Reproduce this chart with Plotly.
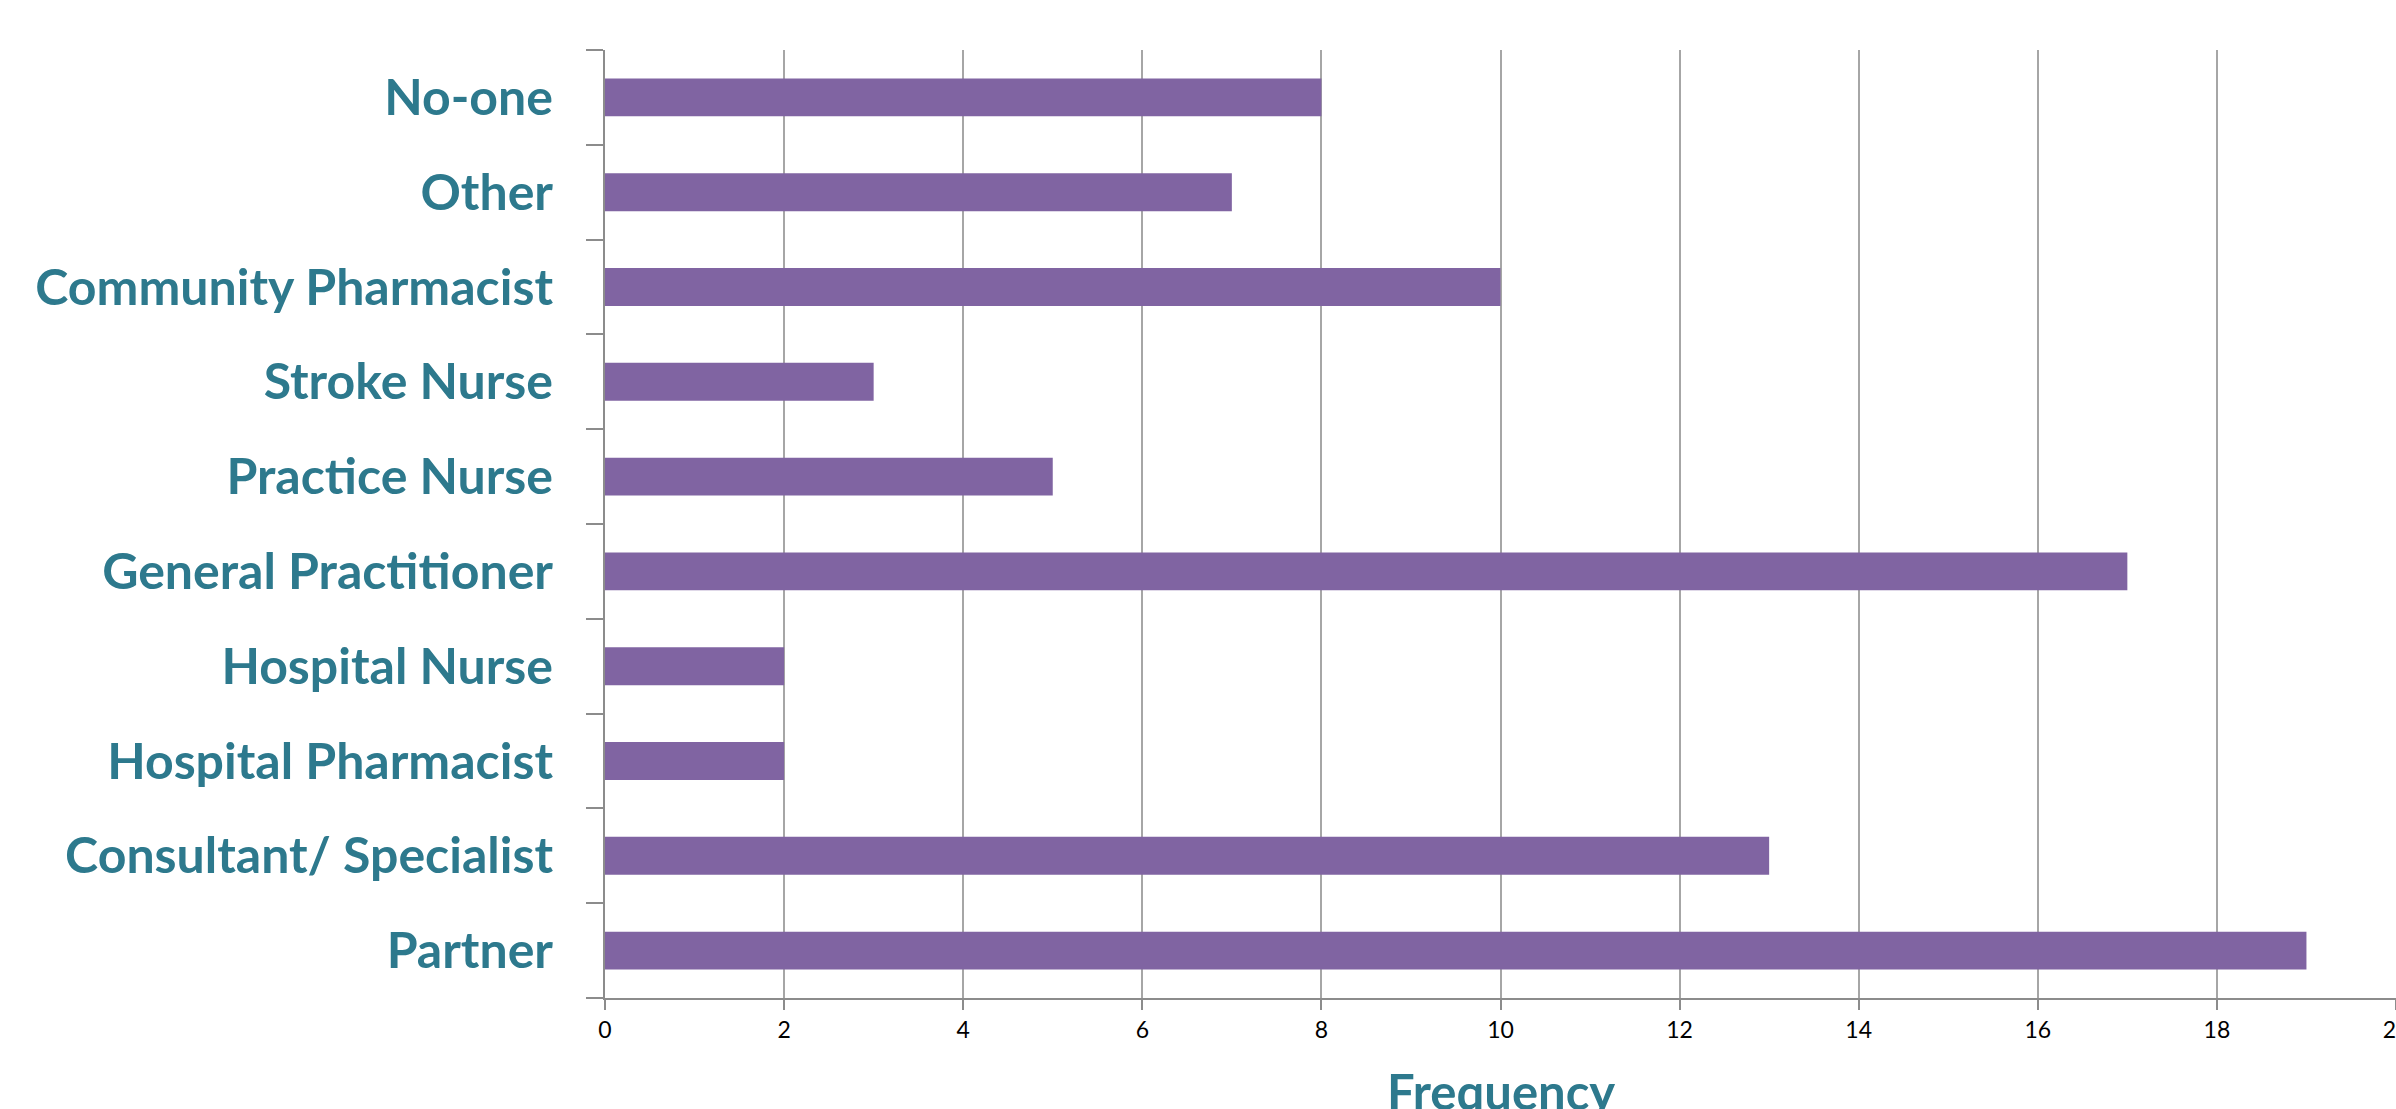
import plotly.graph_objects as go

categories = ["Partner", "Consultant/ Specialist", "Hospital Pharmacist", "Hospital Nurse",
              "General Practitioner", "Practice Nurse", "Stroke Nurse",
              "Community Pharmacist", "Other", "No-one"]
frequency = [19, 13, 2, 2, 17, 5, 3, 10, 7, 8]
x_ticks = [0, 2, 4, 6, 8, 10, 12, 14, 16, 18, 20]
x_title = "Frequency"

TEAL = "#2D798D"
BAR = "#8064A2"
AXIS = "#8C8C8C"
GRID = "#A6A6A6"

fig = go.Figure(go.Bar(
    x=frequency, y=categories, orientation="h",
    marker=dict(color=BAR, line=dict(width=0)),
))

fig.update_layout(
    width=2396, height=1109,
    margin=dict(l=605, r=0, t=50, b=111),
    paper_bgcolor="white", plot_bgcolor="white",
    bargap=0.6, showlegend=False,
    font=dict(family="Lato, sans-serif"),
)

fig.update_xaxes(
    range=[0, 20], tickvals=x_ticks, ticktext=[str(v) for v in x_ticks],
    automargin=False,
    showgrid=True, gridcolor=GRID, gridwidth=2,
    showline=True, linecolor=AXIS, linewidth=2,
    ticks="outside", ticklen=10, tickwidth=2, tickcolor=AXIS,
    tickfont=dict(family="Lato, sans-serif", size=23, color="black"),
    ticklabeloverflow="allow",
    zeroline=False,
)

# x-axis title placed below the tick labels (partly past the bottom edge, as in the original)
fig.add_annotation(
    text=f"<b>{x_title}</b>", xref="paper", yref="paper", x=0.5, y=0,
    xanchor="center", yanchor="top", yshift=-62, showarrow=False,
    font=dict(family="Lato, sans-serif", size=49, color=TEAL),
)

fig.update_yaxes(
    type="category", categoryorder="array", categoryarray=categories,
    range=[-0.5, 9.5], automargin=False,
    showgrid=False, showline=True, linecolor=AXIS, linewidth=2,
    ticks="outside", tickson="boundaries", ticklen=17, tickwidth=2, tickcolor=AXIS,
    tickfont=dict(family="Lato, sans-serif", size=50, color=TEAL, weight="bold"),
    ticklabelstandoff=40,
)

fig.write_html("out.html")
